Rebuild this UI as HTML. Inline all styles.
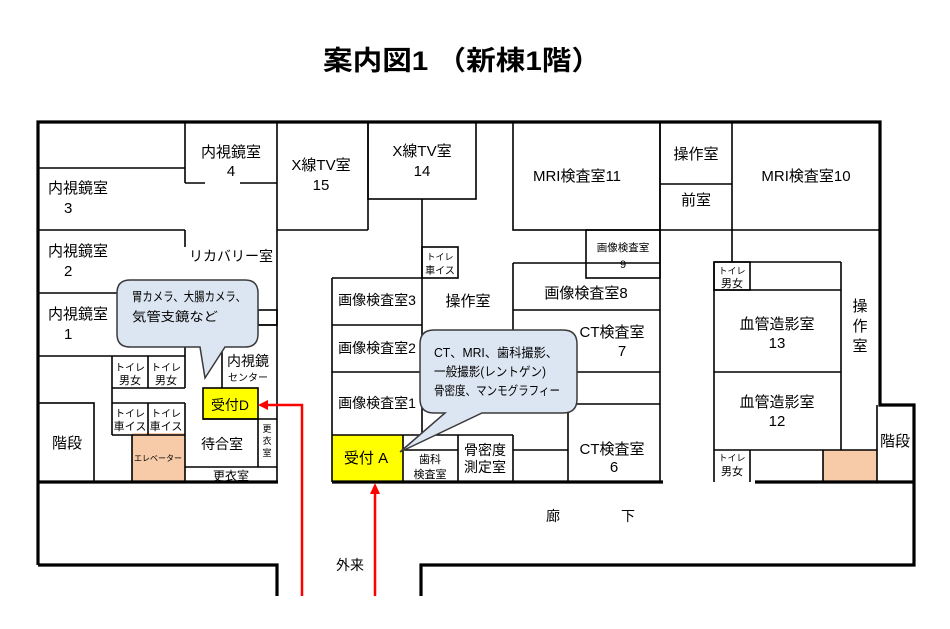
<!DOCTYPE html>
<html><head><meta charset="utf-8"><style>
body{margin:0;background:#fff}
svg{display:block}
text{font-family:"Liberation Sans","Noto Sans CJK JP",sans-serif;fill:#000}
</style></head><body>
<svg width="950" height="629" viewBox="0 0 950 629" xmlns="http://www.w3.org/2000/svg">
<text x="462" y="70" text-anchor="middle" font-size="27" font-weight="bold" textLength="278" lengthAdjust="spacingAndGlyphs">案内図1 （新棟1階）</text>
<!-- fills -->
<rect x="132" y="433" width="53" height="49" fill="#f7cba8"/>
<rect x="823" y="450" width="54" height="32" fill="#f7cba8"/>
<rect x="203" y="388" width="55" height="31" fill="#ffff00"/>
<rect x="332" y="435" width="71" height="47" fill="#ffff00"/>
<g stroke="#000" stroke-width="1.6" fill="none">
<line x1="38" y1="168" x2="185" y2="168"/>
<line x1="185" y1="122" x2="185" y2="183"/>
<line x1="185" y1="183" x2="205" y2="183"/><line x1="240" y1="183" x2="277" y2="183"/>
<line x1="277" y1="122" x2="277" y2="388"/>
<line x1="277" y1="230" x2="368" y2="230"/>
<line x1="368" y1="122" x2="368" y2="230"/>
<line x1="38" y1="230" x2="185" y2="230"/><line x1="185" y1="230" x2="185" y2="247"/>
<line x1="38" y1="293" x2="185" y2="293"/>
<line x1="38" y1="356" x2="185" y2="356"/>
<line x1="185" y1="293" x2="185" y2="356"/>
<rect x="258" y="310" width="19" height="15"/>
<line x1="222" y1="325" x2="222" y2="388"/><line x1="222" y1="325" x2="277" y2="325"/>
<line x1="112" y1="356" x2="112" y2="435"/>
<line x1="112" y1="388" x2="185" y2="388"/>
<line x1="148" y1="356" x2="148" y2="388"/><line x1="185" y1="356" x2="185" y2="388"/>
<line x1="112" y1="403" x2="185" y2="403"/>
<line x1="148" y1="403" x2="148" y2="435"/><line x1="185" y1="403" x2="185" y2="482"/>
<line x1="112" y1="435" x2="185" y2="435"/>
<line x1="132" y1="435" x2="132" y2="482"/>
<rect x="38" y="403" width="56" height="79"/>
<rect x="203" y="388" width="55" height="31"/>
<line x1="203" y1="419" x2="277" y2="419"/>
<line x1="258" y1="419" x2="258" y2="467"/>
<line x1="185" y1="467" x2="277" y2="467"/>
<line x1="277" y1="388" x2="277" y2="482"/>
<rect x="368" y="122" width="108" height="77"/>
<line x1="422" y1="199" x2="422" y2="435"/>
<rect x="422" y="247" width="36" height="31"/>
<rect x="513" y="122" width="147" height="108"/>
<line x1="332" y1="278" x2="422" y2="278"/>
<line x1="332" y1="278" x2="332" y2="482"/>
<line x1="332" y1="325" x2="422" y2="325"/>
<line x1="332" y1="372" x2="422" y2="372"/>
<line x1="332" y1="435" x2="513" y2="435"/>
<line x1="403" y1="435" x2="403" y2="482"/>
<line x1="403" y1="450" x2="458" y2="450"/>
<line x1="458" y1="435" x2="458" y2="482"/>
<line x1="513" y1="435" x2="513" y2="482"/>
<line x1="513" y1="450" x2="568" y2="450"/>
<line x1="568" y1="404" x2="568" y2="482"/>
<line x1="513" y1="404" x2="660" y2="404"/>
<line x1="513" y1="372" x2="660" y2="372"/>
<line x1="513" y1="263" x2="660" y2="263"/>
<line x1="513" y1="263" x2="513" y2="340"/>
<line x1="513" y1="310" x2="660" y2="310"/>
<rect x="586" y="230" width="74" height="48"/>
<line x1="660" y1="122" x2="660" y2="482"/>
<line x1="660" y1="184" x2="732" y2="184"/>
<line x1="732" y1="122" x2="732" y2="262"/>
<line x1="660" y1="230" x2="880" y2="230"/>
<line x1="714" y1="262" x2="841" y2="262"/>
<line x1="714" y1="262" x2="714" y2="482"/>
<line x1="841" y1="262" x2="841" y2="450"/>
<rect x="714" y="262" width="36" height="28"/>
<line x1="714" y1="290" x2="841" y2="290"/>
<line x1="714" y1="372" x2="841" y2="372"/>
<line x1="714" y1="450" x2="877" y2="450"/>
<line x1="750" y1="450" x2="750" y2="482"/>
<line x1="823" y1="450" x2="823" y2="482"/>
<line x1="877" y1="405" x2="877" y2="482"/>
</g>
<g stroke="#000" stroke-width="3.2" fill="none">
<polyline points="38,565 38,122 880,122 880,405 914,405 914,565 421,565 421,596"/>
<polyline points="38,565 277,565 277,596"/>
<line x1="38" y1="482" x2="278" y2="482"/>
<line x1="332" y1="482" x2="663" y2="482"/>
<line x1="755" y1="482" x2="914" y2="482"/>
</g>
<path d="M130,280 H245 Q258,280 258,293 V334 Q258,347 245,347 H225 L205,378 L200,347 H130 Q117,347 117,334 V293 Q117,280 130,280 Z" fill="#dce6f2" stroke="#3a3a3a" stroke-width="1.5"/>
<path d="M434,330 H563 Q577,330 577,344 V399 Q577,413 563,413 H482 L400,452 L445,413 H434 Q420,413 420,399 V344 Q420,330 434,330 Z" fill="#dce6f2" stroke="#3a3a3a" stroke-width="1.5"/>
<g stroke="#f00" stroke-width="2.5" fill="none">
<polyline points="302,596 302,405 266,405"/>
<line x1="375" y1="596" x2="375" y2="492"/>
</g>
<polygon points="258,405 268,400 268,410" fill="#f00"/>
<polygon points="375,483 370,494 380,494" fill="#f00"/>
<g font-size="15">
<text x="231" y="157" text-anchor="middle">内視鏡室</text><text x="231" y="176" text-anchor="middle">4</text>
<text x="321" y="170" text-anchor="middle">X線TV室</text><text x="321" y="190" text-anchor="middle">15</text>
<text x="422" y="156" text-anchor="middle">X線TV室</text><text x="422" y="176" text-anchor="middle">14</text>
<text x="48" y="193">内視鏡室</text><text x="64" y="213">3</text>
<text x="48" y="256">内視鏡室</text><text x="64" y="276">2</text>
<text x="48" y="319">内視鏡室</text><text x="64" y="339">1</text>
<text x="231" y="261" text-anchor="middle" font-size="14">リカバリー室</text>
<text x="248" y="366" text-anchor="middle" font-size="14">内視鏡</text>
<text x="248" y="381" text-anchor="middle" font-size="10">センター</text>
<text x="230" y="410" text-anchor="middle" font-size="14">受付D</text>
<text x="222" y="449" text-anchor="middle" font-size="14">待合室</text>
<text x="231" y="480" text-anchor="middle" font-size="12">更衣室</text>
<text x="52" y="448">階段</text>
<text x="577" y="181" text-anchor="middle">MRI検査室11</text>
<text x="696" y="159" text-anchor="middle">操作室</text>
<text x="696" y="205" text-anchor="middle">前室</text>
<text x="806" y="181" text-anchor="middle">MRI検査室10</text>
<text x="377" y="305" text-anchor="middle" font-size="14">画像検査室3</text>
<text x="377" y="353" text-anchor="middle" font-size="14">画像検査室2</text>
<text x="377" y="408" text-anchor="middle" font-size="14">画像検査室1</text>
<text x="468" y="306" text-anchor="middle">操作室</text>
<text x="586" y="298" text-anchor="middle">画像検査室8</text>
<text x="612" y="337" text-anchor="middle">CT検査室</text><text x="622" y="356" text-anchor="middle">7</text>
<text x="612" y="454" text-anchor="middle">CT検査室</text><text x="614" y="472" text-anchor="middle">6</text>
<text x="366" y="463" text-anchor="middle">受付 A</text>
<text x="485" y="455" text-anchor="middle" font-size="14">骨密度</text>
<text x="485" y="472" text-anchor="middle" font-size="14">測定室</text>
<text x="777" y="329" text-anchor="middle">血管造影室</text><text x="777" y="348" text-anchor="middle">13</text>
<text x="777" y="407" text-anchor="middle">血管造影室</text><text x="777" y="426" text-anchor="middle">12</text>
<text x="860" y="311" text-anchor="middle">操</text><text x="860" y="331" text-anchor="middle">作</text><text x="860" y="351" text-anchor="middle">室</text>
<text x="880" y="446">階段</text>
<text x="553" y="521" text-anchor="middle" font-size="14">廊</text>
<text x="628" y="521" text-anchor="middle" font-size="14">下</text>
<text x="350" y="570" text-anchor="middle" font-size="14">外来</text>
</g>
<g font-size="11" text-anchor="middle">
<text x="623" y="251" font-size="10.5">画像検査室</text><text x="623" y="268">9</text>
<text x="440" y="260" font-size="9">トイレ</text><text x="440" y="274" font-size="10">車イス</text>
<text x="130" y="371" font-size="10">トイレ</text><text x="130" y="384">男女</text>
<text x="166" y="371" font-size="10">トイレ</text><text x="166" y="384">男女</text>
<text x="130" y="417" font-size="10">トイレ</text><text x="130" y="430">車イス</text>
<text x="166" y="417" font-size="10">トイレ</text><text x="166" y="430">車イス</text>
<text x="158" y="461" font-size="8">エレベーター</text>
<text x="267" y="432" font-size="9">更</text><text x="267" y="444" font-size="9">衣</text><text x="267" y="456" font-size="9">室</text>
<text x="430" y="463">歯科</text><text x="430" y="478">検査室</text>
<text x="732" y="274" font-size="9">トイレ</text><text x="732" y="287">男女</text>
<text x="732" y="461" font-size="9">トイレ</text><text x="732" y="475">男女</text>
</g>
<g font-size="12.5" lengthAdjust="spacingAndGlyphs">
<text x="132" y="301" textLength="114" lengthAdjust="spacingAndGlyphs">胃カメラ、大腸カメラ、</text>
<text x="132" y="321" textLength="86" lengthAdjust="spacingAndGlyphs">気管支鏡など</text>
<text x="434" y="357" textLength="124" lengthAdjust="spacingAndGlyphs">CT、MRI、歯科撮影、</text>
<text x="434" y="376" textLength="112" lengthAdjust="spacingAndGlyphs">一般撮影(レントゲン)</text>
<text x="434" y="395" textLength="126" lengthAdjust="spacingAndGlyphs">骨密度、マンモグラフィー</text>
</g>
</svg>
</body></html>
